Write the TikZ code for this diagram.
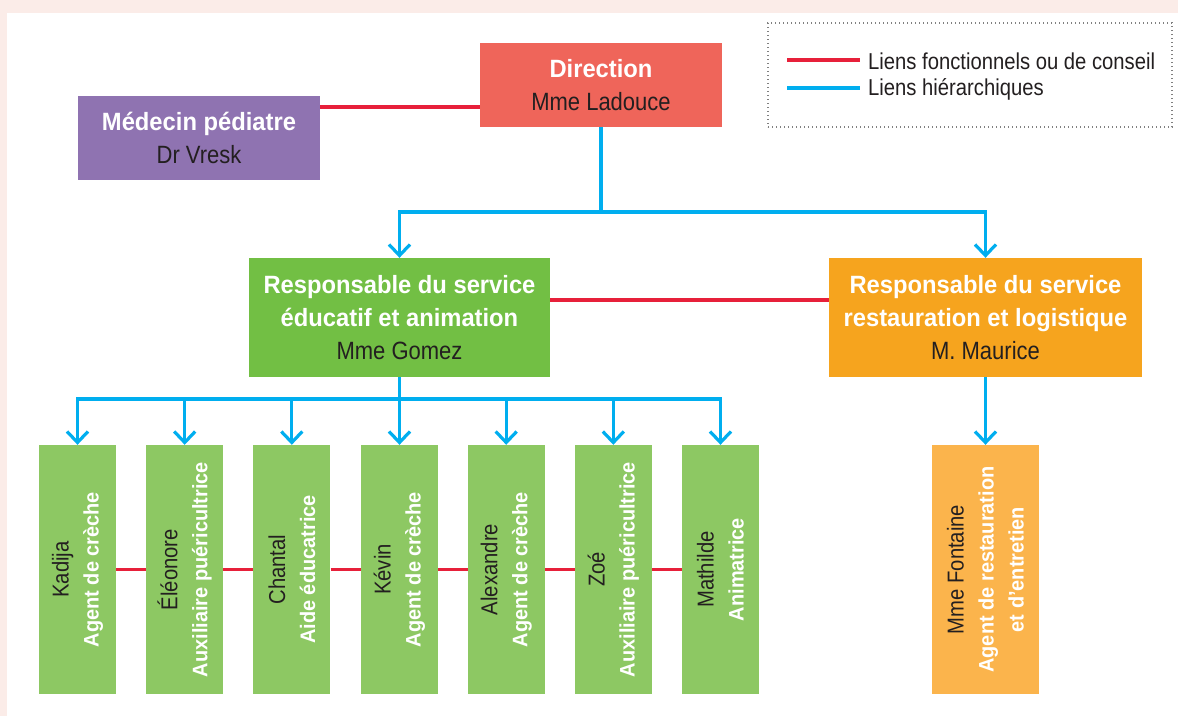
\documentclass[tikz,border=0pt]{standalone}
\usepackage{fontspec}
\setmainfont{Liberation Sans}[FakeStretch=0.88,BoldFeatures={FakeStretch=0.95}]
\usetikzlibrary{arrows.meta}
\definecolor{bgpink}{HTML}{FBECE8}
\definecolor{cred}{HTML}{E7203A}
\definecolor{cblue}{HTML}{00AEEF}
\definecolor{cdir}{HTML}{EF655A}
\definecolor{cmed}{HTML}{8F73B1}
\definecolor{cgom}{HTML}{72BF44}
\definecolor{cgreen}{HTML}{8DC863}
\definecolor{cmau}{HTML}{F6A41E}
\definecolor{cfont}{HTML}{FBB44C}
\definecolor{txt}{HTML}{231F20}
\newcommand{\wbt}[1]{\textcolor{white}{\textbf{#1}}}
\newcommand{\pname}[1]{{\fontsize{23}{30}\selectfont #1}}
\begin{document}
\begin{tikzpicture}[x=1pt,y=-1pt,
  tbox/.style={inner sep=0pt,align=center,text=txt,font=\fontsize{25}{33}\selectfont},
  vbox/.style={inner sep=0pt,align=center,text=txt,rotate=90,minimum width=249pt,
    minimum height=77pt,fill=cgreen,font=\fontsize{21}{30}\selectfont},
  hier/.style={draw=cblue,line width=3.2pt},
  harrow/.style={hier,-{Straight Barb[length=11pt,width=21pt]}},
  func/.style={draw=cred,line width=3.6pt},
  legtext/.style={anchor=base west,inner sep=0pt,text=txt,font=\fontsize{23}{28}\selectfont}
]
\useasboundingbox (0,0) rectangle (1178,716);
\fill[bgpink] (0,0) rectangle (1178,716);
\fill[white] (7,13) rectangle (1178,716);

% top level
\node[tbox,fill=cdir,minimum width=242pt,minimum height=84pt] (dir) at (601,85)
  {\wbt{Direction}\\Mme Ladouce};
\node[tbox,fill=cmed,minimum width=242pt,minimum height=84pt] (med) at (199,138)
  {\wbt{Médecin pédiatre}\\Dr Vresk};

% second level
\node[tbox,fill=cgom,minimum width=301pt,minimum height=119pt] (gom) at (399.5,317.5)
  {\wbt{Responsable du service}\\\wbt{éducatif et animation}\\Mme Gomez};
\node[tbox,fill=cmau,minimum width=313pt,minimum height=119pt] (mau) at (985.5,317.5)
  {\wbt{Responsable du service}\\\wbt{restauration et logistique}\\M. Maurice};

% third level
\node[vbox] (k1) at (77.5,569.5) {\pname{Kadija}\\\wbt{Agent de crèche}};
\node[vbox] (k2) at (184.7,569.5) {\pname{Éléonore}\\\wbt{Auxiliaire puéricultrice}};
\node[vbox] (k3) at (291.8,569.5) {\pname{Chantal}\\\wbt{Aide éducatrice}};
\node[vbox] (k4) at (399.5,569.5) {\pname{Kévin}\\\wbt{Agent de crèche}};
\node[vbox] (k5) at (506.2,569.5) {\pname{Alexandre}\\\wbt{Agent de crèche}};
\node[vbox] (k6) at (613.3,569.5) {\pname{Zoé}\\\wbt{Auxiliaire puéricultrice}};
\node[vbox] (k7) at (720.5,569.5) {\pname{Mathilde}\\\wbt{Animatrice}};
\node[vbox,fill=cfont,minimum height=107pt] (fon) at (985.5,569.5)
  {\pname{Mme Fontaine}\\\wbt{Agent de restauration}\\\wbt{et d'entretien}};

% functional links
\draw[func] ([yshift=31pt]med.east) -- ([yshift=31pt]med.east -| dir.west);
\draw[func] ([yshift=17.5pt]gom.east) -- ([yshift=17.5pt]gom.east -| mau.west);
\draw[func] (k1.south) -- (k2.north);
\draw[func] (k2.south) -- (k3.north);
\draw[func] (k3.south) -- (k4.north);
\draw[func] (k4.south) -- (k5.north);
\draw[func] (k5.south) -- (k6.north);
\draw[func] (k6.south) -- (k7.north);

% hierarchical links
\coordinate (j1) at (601,212);
\coordinate (j2) at (399.5,399);
\draw[hier] (dir.south) -- (j1);
\draw[harrow] (j1) -| (gom.north);
\draw[harrow] (j1) -| (mau.north);
\draw[harrow] (gom.south) -- (k4.east);
\foreach \k in {k1,k2,k3,k5,k6,k7} \draw[harrow] (j2) -| (\k.east);
\draw[harrow] (mau.south) -- (fon.east);

% legend
\node[draw=gray,line width=1.1pt,dash pattern=on 1.1pt off 2.9pt,minimum width=404pt,
  minimum height=104pt,inner sep=0pt] (leg) at (970,75) {};
\coordinate (r1) at (787,60);
\coordinate (r2) at (860,60);
\coordinate (b1) at (787,88);
\coordinate (b2) at (860,88);
\draw[func] (r1) -- (r2);
\draw[hier,line width=3.6pt] (b1) -- (b2);
\node[legtext] (lt1) at (868,69) {Liens fonctionnels ou de conseil};
\node[legtext] (lt2) at (868,95) {Liens hiérarchiques};
\end{tikzpicture}
\end{document}
